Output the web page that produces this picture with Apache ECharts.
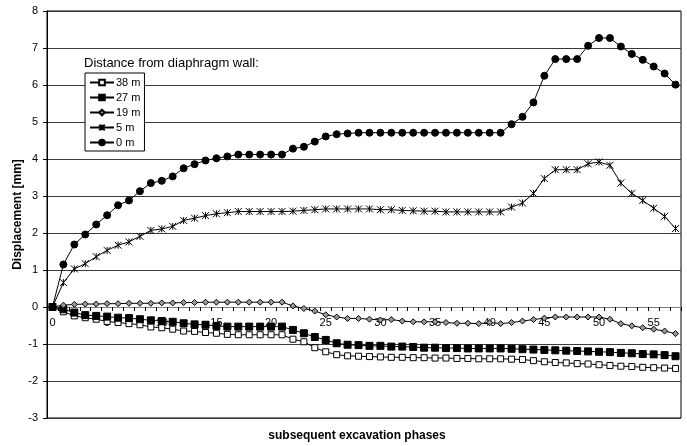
<!DOCTYPE html>
<html>
<head>
<meta charset="utf-8">
<script src="https://cdn.jsdelivr.net/npm/echarts@6/dist/echarts.min.js"></script>
<style>html,body{margin:0;padding:0;background:#fff;}#c{width:687px;height:446px;}</style>
</head>
<body>
<div id="c"></div>
<script>
var phases = [];
for (var i = 0; i <= 57; i++) phases.push(String(i));

var yTicks = [-3, -2, -1, 0, 1, 2, 3, 4, 5, 6, 7, 8];

var s38 = [0, -0.13, -0.24, -0.29, -0.33, -0.39, -0.42, -0.45, -0.48, -0.54, -0.56, -0.60, -0.65, -0.66, -0.69, -0.71, -0.74, -0.75, -0.75, -0.75, -0.75, -0.75, -0.87, -0.94, -1.10, -1.21, -1.29, -1.32, -1.33, -1.34, -1.35, -1.36, -1.36, -1.37, -1.37, -1.38, -1.38, -1.39, -1.39, -1.40, -1.40, -1.40, -1.41, -1.42, -1.45, -1.48, -1.50, -1.51, -1.53, -1.54, -1.56, -1.58, -1.60, -1.61, -1.63, -1.64, -1.65, -1.66];
var s27 = [0, -0.06, -0.15, -0.22, -0.24, -0.26, -0.29, -0.30, -0.33, -0.36, -0.38, -0.40, -0.44, -0.47, -0.48, -0.51, -0.53, -0.53, -0.53, -0.53, -0.53, -0.53, -0.62, -0.71, -0.81, -0.89, -0.98, -1.02, -1.03, -1.05, -1.05, -1.07, -1.07, -1.08, -1.10, -1.10, -1.11, -1.11, -1.12, -1.12, -1.12, -1.12, -1.13, -1.14, -1.15, -1.16, -1.17, -1.18, -1.19, -1.20, -1.21, -1.22, -1.24, -1.25, -1.27, -1.28, -1.30, -1.33];
var s19 = [0, 0.05, 0.07, 0.08, 0.08, 0.09, 0.09, 0.10, 0.10, 0.10, 0.11, 0.11, 0.12, 0.12, 0.13, 0.13, 0.13, 0.13, 0.13, 0.13, 0.13, 0.13, 0.03, -0.04, -0.11, -0.21, -0.27, -0.31, -0.31, -0.33, -0.35, -0.34, -0.38, -0.40, -0.40, -0.40, -0.42, -0.44, -0.44, -0.45, -0.42, -0.45, -0.42, -0.38, -0.34, -0.30, -0.27, -0.27, -0.27, -0.27, -0.27, -0.33, -0.45, -0.51, -0.56, -0.60, -0.65, -0.72];
var s5 = [0, 0.66, 1.03, 1.17, 1.36, 1.53, 1.67, 1.76, 1.91, 2.07, 2.11, 2.18, 2.34, 2.40, 2.47, 2.52, 2.55, 2.58, 2.58, 2.58, 2.58, 2.58, 2.59, 2.61, 2.63, 2.65, 2.65, 2.65, 2.65, 2.65, 2.63, 2.63, 2.61, 2.60, 2.59, 2.59, 2.57, 2.57, 2.57, 2.57, 2.57, 2.57, 2.70, 2.81, 3.07, 3.47, 3.71, 3.71, 3.71, 3.87, 3.92, 3.83, 3.35, 3.07, 2.88, 2.67, 2.45, 2.12];
var s0 = [0, 1.15, 1.69, 1.96, 2.23, 2.48, 2.75, 2.88, 3.13, 3.35, 3.41, 3.53, 3.75, 3.86, 3.96, 4.02, 4.07, 4.12, 4.12, 4.12, 4.12, 4.12, 4.28, 4.33, 4.47, 4.61, 4.67, 4.69, 4.71, 4.71, 4.71, 4.71, 4.71, 4.71, 4.71, 4.71, 4.71, 4.71, 4.71, 4.71, 4.71, 4.71, 4.94, 5.14, 5.53, 6.25, 6.70, 6.70, 6.70, 7.06, 7.27, 7.27, 7.04, 6.84, 6.68, 6.50, 6.31, 6.01];

var seriesNames = ['38 m', '27 m', '19 m', '5 m', '0 m'];
var legendTitle = 'Distance from diaphragm wall:';
var xTitle = 'subsequent excavation phases';
var yTitle = 'Displacement [mm]';

var FONT = '"Liberation Sans", Arial, sans-serif';
var asterisk = 'path://M0,0L10,10M10,0L0,10M5,0L5,10';

var W = 687, H = 446, GT = 11, GB = 28, GL = 47, GR = 6;
var yMin = yTicks[0], yMax = yTicks[yTicks.length - 1];
// shift the category axis up to where value 0 lies (onZero replacement)
var zeroOffset = -(H - GT - GB) * (0 - yMin) / (yMax - yMin);

function mk(name, data, symbol, size, fill) {
  return {
    name: name, type: 'line', data: data,
    symbol: symbol, symbolSize: size,
    lineStyle: { color: '#000', width: 1 },
    itemStyle: { color: fill, borderColor: '#000', borderWidth: 1 },
    emphasis: { disabled: true },
    z: 3
  };
}

var chart = echarts.init(document.getElementById('c'), null, { renderer: 'canvas' });
chart.setOption({
  animation: false,
  backgroundColor: '#fff',
  textStyle: { fontFamily: FONT },
  grid: { left: GL, right: GR, top: GT, bottom: GB, show: true, borderColor: '#000', borderWidth: 1, backgroundColor: 'transparent' },
  title: {
    text: legendTitle, left: 79, top: 52,
    textStyle: { fontFamily: FONT, fontSize: 13, fontWeight: 'normal', color: '#000' }
  },
  legend: {
    data: seriesNames, orient: 'vertical', left: 85, top: 73,
    backgroundColor: '#fff', borderColor: '#000', borderWidth: 1,
    padding: [4, 4, 3, 4], itemGap: 4, itemWidth: 24, itemHeight: 7,
    textStyle: { fontFamily: FONT, fontSize: 11, color: '#000', padding: [0, 0, 0, -3] },
    selectedMode: false, z: 10
  },
  graphic: [{
    type: 'text', x: 357, y: 436,
    style: { text: xTitle, font: 'bold 12px ' + FONT, fill: '#000', textAlign: 'center', textVerticalAlign: 'middle' }
  }],
  xAxis: {
    type: 'category', data: phases, boundaryGap: true,
    position: 'bottom', offset: zeroOffset,
    axisLine: { show: true, onZero: false, lineStyle: { color: '#808080', width: 1 } },
    axisTick: { show: true, interval: 0, alignWithLabel: false, length: 4, lineStyle: { color: '#000' } },
    axisLabel: { interval: 4, color: '#000', fontSize: 11, fontFamily: FONT, margin: 10 },
    splitLine: { show: false }
  },
  yAxis: {
    type: 'value', min: yMin, max: yMax, interval: 1,
    name: yTitle, nameLocation: 'middle', nameGap: 23, nameMoveOverlap: false,
    nameTextStyle: { fontFamily: FONT, fontSize: 12, fontWeight: 'bold', color: '#000' },
    axisLine: { show: true, onZero: false, lineStyle: { color: '#000', width: 1 } },
    axisTick: { show: true, length: 4, lineStyle: { color: '#000' } },
    axisLabel: { color: '#000', fontSize: 11, fontFamily: FONT, margin: 9 },
    splitLine: { show: true, lineStyle: { color: '#3a3a3a', width: 1 } }
  },
  series: [
    mk(seriesNames[0], s38, 'rect', 6, '#fff'),
    mk(seriesNames[1], s27, 'rect', 7, '#000'),
    mk(seriesNames[2], s19, 'diamond', 6, '#999'),
    mk(seriesNames[3], s5, asterisk, 7, 'transparent'),
    mk(seriesNames[4], s0, 'circle', 7, '#000')
  ]
});
</script>
</body>
</html>
